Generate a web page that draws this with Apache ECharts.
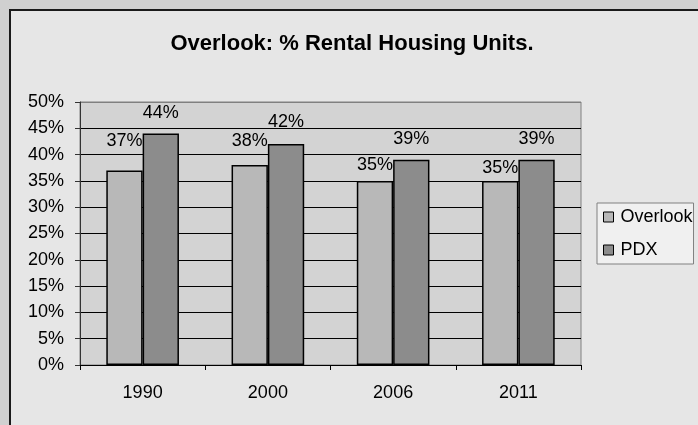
<!DOCTYPE html>
<html>
<head>
<meta charset="utf-8">
<script src="https://cdn.jsdelivr.net/npm/echarts@6/dist/echarts.min.js"></script>
<style>
  html, body { margin: 0; padding: 0; background: #d0d0d0; }
  #chart { width: 698px; height: 425px; }
</style>
</head>
<body>
<div id="chart"></div>
<script>
// Share of housing units that are rentals, Overlook vs. Portland (PDX)
const categories = ['1990', '2000', '2006', '2011'];
const overlookValues = [37, 38, 35, 35];
const pdxValues = [44, 42, 39, 39];
const yTicks = { min: 0, max: 50, step: 5 };

// hand-placed value labels: gap (px) between bar top and its label
const overlookLabelGap = [20, 15, 7, 4];
const pdxLabelGap = [12, 13, 12, 12];

const FONT = '"Liberation Sans", Arial, sans-serif';

const chart = echarts.init(document.getElementById('chart'), null, { renderer: 'canvas' });

// gridline colours: black inside the plot, grey where the top edge is
const splitColors = [];
for (let v = yTicks.min; v <= yTicks.max; v += yTicks.step) {
  splitColors.push(v === yTicks.max ? '#808080' : '#000000');
}

function barData(values, gaps) {
  return values.map((v, i) => ({ value: v, label: { distance: gaps[i] } }));
}

const labelStyle = {
  show: true,
  position: 'top',
  color: '#000',
  fontFamily: FONT,
  fontSize: 18,
  formatter: p => p.value + '%'
};

chart.setOption({
  animation: false,
  backgroundColor: 'transparent',
  textStyle: { fontFamily: FONT },
  graphic: [{
    type: 'rect',
    z: -10,
    silent: true,
    shape: { x: 10, y: 10, width: 720, height: 440 },
    style: { fill: '#e6e6e6', stroke: '#1a1a1a', lineWidth: 2 }
  }],
  title: {
    text: 'Overlook: % Rental Housing Units.',
    left: 347,
    textAlign: 'center',
    top: 28,
    textStyle: { fontFamily: FONT, fontSize: 22, fontWeight: 'bold', color: '#000' }
  },
  legend: {
    orient: 'vertical',
    left: 597,
    top: 203,
    padding: [5, 1, 5, 6],
    itemGap: 15,
    itemWidth: 10,
    itemHeight: 10,
    icon: 'rect',
    backgroundColor: '#f0f0f0',
    borderColor: '#808080',
    borderWidth: 1,
    borderRadius: 0,
    itemStyle: { borderColor: '#000', borderWidth: 1 },
    textStyle: { fontFamily: FONT, fontSize: 18, color: '#000', padding: [0, 0, 0, 2] },
    data: ['Overlook', 'PDX']
  },
  grid: {
    left: 80,
    right: 117,
    top: 102,
    bottom: 60,
    show: true,
    backgroundColor: '#d3d3d3',
    borderColor: '#808080',
    borderWidth: 1
  },
  xAxis: {
    type: 'category',
    data: categories,
    axisLine: { show: true, lineStyle: { color: '#000', width: 1 } },
    axisTick: { show: true, length: 5, lineStyle: { color: '#000' } },
    axisLabel: { color: '#000', fontFamily: FONT, fontSize: 18, margin: 19 }
  },
  yAxis: {
    type: 'value',
    min: yTicks.min,
    max: yTicks.max,
    interval: yTicks.step,
    axisLine: { show: true, lineStyle: { color: '#333', width: 1 } },
    axisTick: { show: true, length: 5, lineStyle: { color: '#333' } },
    axisLabel: { color: '#000', fontFamily: FONT, fontSize: 18, margin: 16, formatter: '{value}%' },
    splitLine: { show: true, lineStyle: { color: splitColors, width: 1 } }
  },
  series: [
    {
      name: 'Overlook',
      type: 'bar',
      data: barData(overlookValues, overlookLabelGap),
      barGap: '0%',
      barCategoryGap: '42%',
      itemStyle: { color: '#b8b8b8', borderColor: '#000', borderWidth: 1.5 },
      label: labelStyle
    },
    {
      name: 'PDX',
      type: 'bar',
      data: barData(pdxValues, pdxLabelGap),
      itemStyle: { color: '#8c8c8c', borderColor: '#000', borderWidth: 1.5 },
      label: labelStyle
    }
  ]
});
</script>
</body>
</html>
